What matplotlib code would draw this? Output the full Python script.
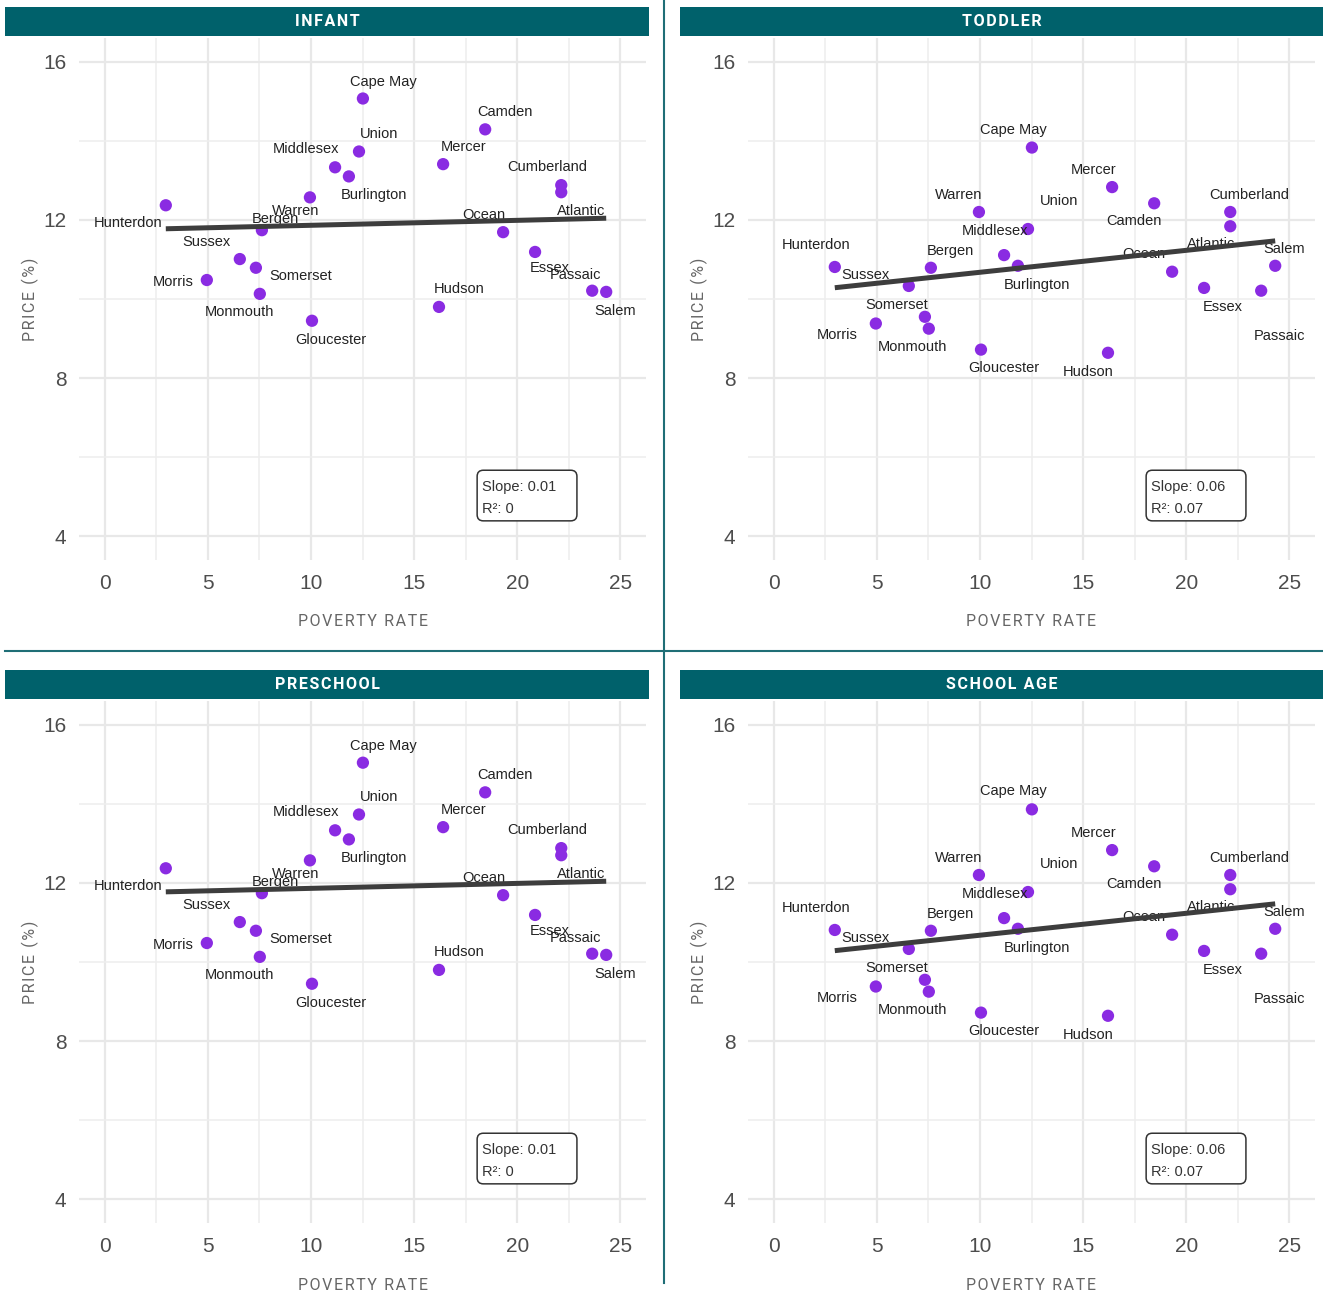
import numpy as np
import matplotlib
matplotlib.use("Agg")
import matplotlib.pyplot as plt
from matplotlib.patches import Rectangle, FancyBboxPatch
from matplotlib.lines import Line2D

# ---------------- data ----------------
counties = ["Hunterdon", "Morris", "Sussex", "Somerset", "Monmouth", "Bergen",
            "Warren", "Gloucester", "Middlesex", "Burlington", "Union", "Cape May",
            "Mercer", "Hudson", "Camden", "Ocean", "Essex", "Cumberland",
            "Atlantic", "Passaic", "Salem"]
poverty_rate = [2.96, 4.95, 6.55, 7.33, 7.52, 7.62,
                9.95, 10.05, 11.17, 11.84, 12.33, 12.52,
                16.41, 16.21, 18.45, 19.32, 20.87, 22.14,
                22.14, 23.64, 24.32]
price_infant = [12.37, 10.48, 11.01, 10.79, 10.13, 11.74,
                12.57, 9.45, 13.33, 13.10, 13.73, 15.07,
                13.41, 9.80, 14.29, 11.69, 11.19, 12.88,
                12.70, 10.21, 10.18]
price_toddler = [10.81, 9.38, 10.33, 9.55, 9.25, 10.79,
                 12.20, 8.72, 11.11, 10.84, 11.77, 13.83,
                 12.83, 8.64, 12.42, 10.69, 10.28, 12.20,
                 11.84, 10.21, 10.84]
price_preschool = [12.37, 10.48, 11.01, 10.79, 10.13, 11.74,
                   12.57, 9.45, 13.33, 13.10, 13.73, 15.04,
                   13.41, 9.80, 14.29, 11.69, 11.19, 12.88,
                   12.70, 10.21, 10.18]
price_school_age = [10.81, 9.38, 10.33, 9.55, 9.25, 10.79,
                    12.20, 8.72, 11.11, 10.84, 11.77, 13.86,
                    12.83, 8.64, 12.42, 10.69, 10.28, 12.20,
                    11.84, 10.21, 10.84]
panel_titles = ["INFANT", "TODDLER", "PRESCHOOL", "SCHOOL AGE"]
stat_texts = ["Slope: 0.01\nR²: 0", "Slope: 0.06\nR²: 0.07",
              "Slope: 0.01\nR²: 0", "Slope: 0.06\nR²: 0.07"]
x_ticks = [0, 5, 10, 15, 20, 25]
y_ticks = [4, 8, 12, 16]

# label offsets (pixels) -- layout only
off_a = {"Cape May": (20, 17), "Camden": (20, 17), "Union": (20, 17),
         "Middlesex": (-29, 18), "Mercer": (20, 17), "Cumberland": (-14, 18),
         "Burlington": (25, -19), "Warren": (-14, -14), "Bergen": (13, 11),
         "Hunterdon": (-38, -18), "Ocean": (-19, 17), "Atlantic": (20, -19),
         "Sussex": (-33, 17), "Essex": (15, -16), "Passaic": (-17, 16),
         "Morris": (-34, -2), "Somerset": (45, -8), "Hudson": (20, 18),
         "Salem": (9, -19), "Monmouth": (-20, -18), "Gloucester": (19, -19)}
off_b = {"Cape May": (-19, 18), "Mercer": (-19, 17), "Warren": (-20, 17),
         "Union": (31, 28), "Cumberland": (19, 17), "Camden": (-20, -18),
         "Middlesex": (-9, 24), "Hunterdon": (-19, 22), "Bergen": (19, 17),
         "Atlantic": (-19, -18), "Ocean": (-28, 18), "Salem": (9, 17),
         "Sussex": (-43, 11), "Burlington": (19, -19), "Somerset": (-28, 12),
         "Essex": (19, -19), "Morris": (-39, -11), "Passaic": (18, -45),
         "Monmouth": (-16, -18), "Gloucester": (23, -18), "Hudson": (-20, -19)}

series = [price_infant, price_toddler, price_preschool, price_school_age]
offsets = [off_a, off_b, off_a, off_b]

# ---------------- style ----------------
W, H = 1323, 1297
fig = plt.figure(figsize=(W / 100, H / 100), dpi=100)
fig.patch.set_facecolor("white")

TEAL = "#00616B"
PURPLE = "#8A2BE2"
NARROW = ["Roboto", "DejaVu Sans"]
SANS = ["Liberation Sans", "DejaVu Sans"]


def spaced(s, sep="\u200a"):
    return sep.join(list(s))


def fx(px):
    return px / W


def fy(py):
    return 1 - py / H


axes_boxes = [(79, 38), (748, 38), (79, 701), (748, 701)]
strip_boxes = [(5, 649, 7, 36), (680, 1323, 7, 36),
               (5, 649, 670, 699), (680, 1323, 670, 699)]
AW, AH = 567, 522

for i in range(4):
    lx, ty = axes_boxes[i]
    ax = fig.add_axes([fx(lx), fy(ty + AH), AW / W, AH / H])
    ax.set_xlim(-1.25, 26.25)
    ax.set_ylim(3.4, 16.6)
    for s in ax.spines.values():
        s.set_visible(False)
    ax.set_xticks(x_ticks)
    ax.set_yticks(y_ticks)
    ax.set_xticks(np.arange(2.5, 26, 5), minor=True)
    ax.set_yticks([6, 10, 14], minor=True)
    ax.grid(True, which="major", color="#E8E8E8", lw=1.6, zorder=0)
    ax.grid(True, which="minor", color="#EEEEEE", lw=1.1, zorder=0)
    ax.set_axisbelow(True)
    ax.tick_params(which="both", length=0)
    ax.tick_params(axis="x", pad=10, labelsize=15, labelcolor="#4D4D4D")
    ax.tick_params(axis="y", pad=9, labelsize=15, labelcolor="#4D4D4D")
    for lab in ax.get_xticklabels() + ax.get_yticklabels():
        lab.set_family(SANS)

    x = np.array(poverty_rate)
    y = np.array(series[i])
    ax.scatter(x, y, s=78, color=PURPLE, edgecolors="none", zorder=3)
    for c, xv, yv in zip(counties, x, y):
        dx, dy = offsets[i][c]
        ax.annotate(c, (xv, yv), xytext=(dx, dy), textcoords="offset pixels",
                    ha="center", va="center", fontsize=10.5, color="#222222",
                    family=SANS, zorder=3)
    k, b = np.polyfit(x, y, 1)
    xs = np.array([x.min(), x.max()])
    ax.plot(xs, k * xs + b, color="#3D3D3D", lw=3.6, solid_capstyle="butt",
            zorder=4)

    box = FancyBboxPatch((18.06, 4.39), 4.84, 1.28,
                         boxstyle="round,pad=0,rounding_size=0.3",
                         mutation_aspect=0.52, fc="white", ec="#333333",
                         lw=1.1, zorder=5)
    ax.add_patch(box)
    ax.text(18.3, 4.96, stat_texts[i], ha="left", va="center", fontsize=10.5,
            color="#333333", family=SANS, linespacing=1.75, zorder=6)

    ax.set_xlabel(spaced("POVERTY RATE"), fontsize=11.5, color="#666666",
                  family=NARROW)
    ax.xaxis.set_label_coords(0.5, -62 / AH)
    ax.xaxis.label.set_va("center")
    ax.set_ylabel(spaced("PRICE (%)"), fontsize=11.5, color="#666666",
                  family=NARROW)
    ax.yaxis.set_label_coords(-49 / AW, 0.5)
    ax.yaxis.label.set_va("center")

    x0, x1, y0, y1 = strip_boxes[i]
    fig.patches.append(Rectangle((fx(x0), fy(y1)), (x1 - x0) / W, (y1 - y0) / H,
                                 transform=fig.transFigure, fc=TEAL, ec="none",
                                 zorder=1))
    fig.text(fx((x0 + x1) / 2), fy((y0 + y1) / 2 + 0.5),
             spaced(panel_titles[i], "\u200a"),
             ha="center", va="center", color="white", fontsize=11.5,
             fontweight="bold", family=NARROW, zorder=2)

# separators
fig.add_artist(Line2D([fx(664), fx(664)], [fy(0), fy(1283)], color="#1F6E76",
                      lw=1.5, transform=fig.transFigure))
fig.add_artist(Line2D([fx(5), fx(1323)], [fy(651), fy(651)], color="#1F6E76",
                      lw=1.5, transform=fig.transFigure))

fig.savefig("out.png", dpi=100, facecolor="white")
